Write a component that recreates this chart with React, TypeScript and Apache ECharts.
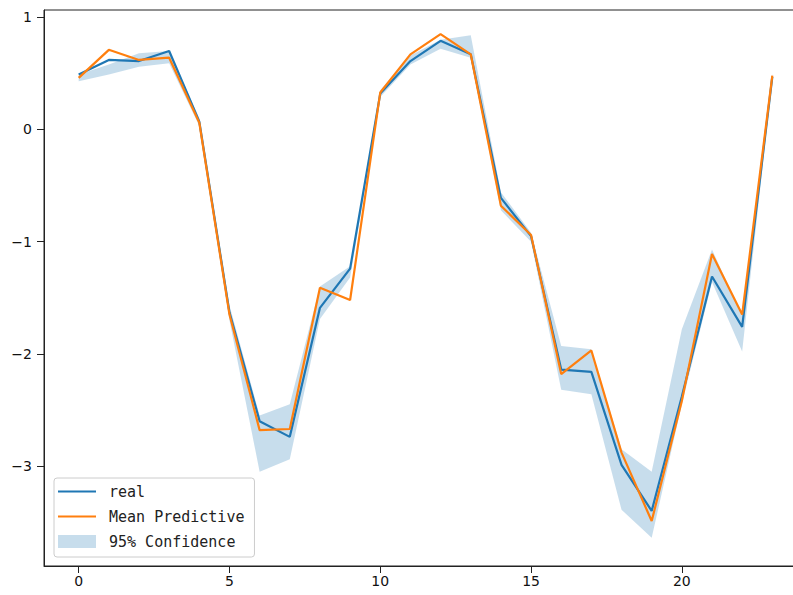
import React, { useEffect, useRef } from "react";
import * as echarts from "echarts";

const steps: number[] = [0, 1, 2, 3, 4, 5, 6, 7, 8, 9, 10, 11, 12, 13, 14, 15, 16, 17, 18, 19, 20, 21, 22, 23];
const realValues: number[] = [0.49, 0.62, 0.61, 0.70, 0.07, -1.63, -2.60, -2.74, -1.59, -1.24, 0.32, 0.61, 0.79, 0.67, -0.61, -0.95, -2.14, -2.16, -2.99, -3.40, -2.38, -1.31, -1.76, 0.47];
const meanValues: number[] = [0.46, 0.71, 0.62, 0.64, 0.06, -1.65, -2.68, -2.67, -1.41, -1.52, 0.33, 0.67, 0.85, 0.67, -0.68, -0.94, -2.18, -1.97, -2.88, -3.49, -2.42, -1.11, -1.65, 0.48];
const lowerValues: number[] = [0.43, 0.49, 0.56, 0.59, 0.03, -1.70, -3.05, -2.94, -1.69, -1.32, 0.29, 0.58, 0.72, 0.64, -0.72, -1.00, -2.32, -2.36, -3.39, -3.64, -2.45, -1.36, -1.98, 0.45];
const upperValues: number[] = [0.49, 0.58, 0.68, 0.70, 0.10, -1.57, -2.55, -2.45, -1.40, -1.22, 0.35, 0.66, 0.80, 0.84, -0.56, -0.92, -1.93, -1.96, -2.85, -3.05, -1.78, -1.07, -1.66, 0.50];
const xTicks: number[] = [0, 5, 10, 15, 20];
const yTicks: number[] = [-3, -2, -1, 0, 1];

const BLUE = "#1f77b4";
const ORANGE = "#ff7f0e";
const BAND = "rgba(31,119,180,0.25)";
const LINE_ICON = "path://M0,0 L0.01,0 L0,0 Z M0,5.4 L38,5.4 L38,7.6 L0,7.6 Z M38,13 L37.99,13 L38,13 Z";

export default function App() {
  const ref = useRef<HTMLDivElement>(null);
  useEffect(() => {
    if (!ref.current) return;
    const chart = echarts.init(ref.current, undefined, { renderer: "svg" });
    const pair = (arr: number[]) => steps.map((s, i) => [s, arr[i]]);
    const bandRows = steps.map((s, i) => [s, lowerValues[i], upperValues[i]]);
    const minus = (v: number) => String(v).replace("-", "\u2212");
    const tickFont = { fontFamily: "DejaVu Sans", fontSize: 14, color: "#111" };
    chart.setOption({
      animation: false,
      backgroundColor: "#fff",
      grid: {
        left: 44,
        top: 10,
        width: 763,
        height: 556,
        show: true,
        borderColor: "#222",
        borderWidth: 1,
        backgroundColor: "transparent",
      },
      legend: {
        orient: "vertical",
        left: 54,
        top: 478,
        padding: [6, 10, 8, 4],
        itemGap: 10,
        itemWidth: 38,
        itemHeight: 13,
        borderColor: "#cccccc",
        borderWidth: 1,
        borderRadius: 3,
        backgroundColor: "rgba(255,255,255,0.8)",
        textStyle: {
          fontFamily: "DejaVu Sans Mono",
          fontSize: 15,
          color: "#222",
          padding: [0, 0, 0, 8],
        },
        data: [
          { name: "real", icon: LINE_ICON, itemStyle: { color: BLUE } },
          { name: "Mean Predictive", icon: LINE_ICON, itemStyle: { color: ORANGE } },
          { name: "95% Confidence", icon: "rect", itemStyle: { color: BAND } },
        ],
      },
      xAxis: {
        type: "value",
        min: -1.15,
        max: 24.15,
        splitLine: { show: false },
        axisLine: { show: true, onZero: false, lineStyle: { color: "#222", width: 1 } },
        axisTick: { show: true, length: 7, lineStyle: { color: "#222" }, customValues: xTicks },
        axisLabel: { ...tickFont, margin: 8, customValues: xTicks, formatter: minus },
      },
      yAxis: {
        type: "value",
        min: -3.891,
        max: 1.065,
        splitLine: { show: false },
        axisLine: { show: true, onZero: false, lineStyle: { color: "#222", width: 1 } },
        axisTick: { show: true, length: 7, lineStyle: { color: "#222" }, customValues: yTicks },
        axisLabel: { ...tickFont, margin: 12, customValues: yTicks, formatter: minus },
      },
      series: [
        {
          name: "95% Confidence",
          type: "custom",
          data: bandRows,
          encode: { x: 0, y: [1, 2] },
          itemStyle: { color: BAND },
          z: 1,
          silent: true,
          renderItem: (params: any, api: any) => {
            if (params.dataIndex !== 0) return null;
            const pts: number[][] = [];
            for (let i = 0; i < steps.length; i++) pts.push(api.coord([steps[i], upperValues[i]]));
            for (let i = steps.length - 1; i >= 0; i--) pts.push(api.coord([steps[i], lowerValues[i]]));
            return {
              type: "polygon",
              shape: { points: pts },
              style: { fill: BAND, stroke: "none" },
            };
          },
        },
        {
          name: "real",
          type: "line",
          data: pair(realValues),
          symbol: "none",
          lineStyle: { color: BLUE, width: 2.2 },
          itemStyle: { color: BLUE },
          z: 3,
        },
        {
          name: "Mean Predictive",
          type: "line",
          data: pair(meanValues),
          symbol: "none",
          lineStyle: { color: ORANGE, width: 2.2 },
          itemStyle: { color: ORANGE },
          z: 4,
        },
      ],
    });
    return () => chart.dispose();
  }, []);
  return (
    <div style={{ position: "fixed", left: 0, top: 0, width: 793, height: 595, overflow: "hidden", background: "#fff" }}>
      <div ref={ref} style={{ width: 820, height: 595 }} />
    </div>
  );
}
